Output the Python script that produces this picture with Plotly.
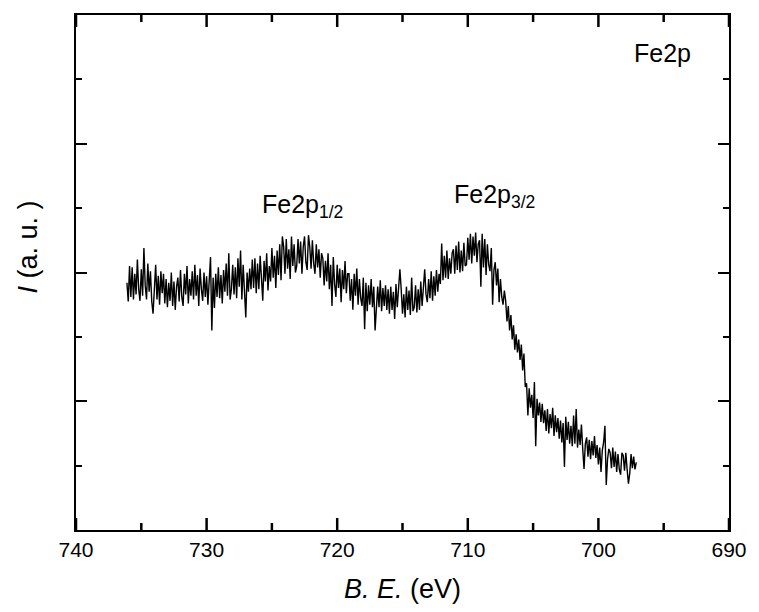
import numpy as np
import plotly.graph_objects as go

# Binding-energy grid (eV), high to low, as recorded
be_start = 736.1
be_step = 0.1

# Intensity (a.u.), one row per eV
intensity = [
    3.84, 3.55, 4.10, 3.62, 4.08, 3.58, 3.98, 3.66, 4.20, 3.74,
    3.56, 4.05, 3.64, 4.38, 3.80, 3.58, 4.14, 3.70, 4.02, 3.55,
    3.36, 3.72, 4.12, 3.58, 3.95, 3.50, 4.02, 3.68, 3.98, 3.52,
    3.90, 3.46, 3.84, 3.56, 4.00, 3.48, 3.86, 3.42, 3.78, 3.92,
    3.55, 4.04, 3.62, 3.48, 3.98, 3.66, 4.10, 3.52, 3.90, 3.64,
    4.02, 3.58, 4.12, 3.64, 3.96, 3.48, 4.06, 3.74, 3.56, 4.00,
    3.62, 3.94, 3.50, 3.88, 4.24, 3.10, 3.92, 3.45, 3.98, 3.62,
    4.08, 3.60, 3.96, 3.52, 4.04, 3.70, 4.14, 3.64, 4.30, 3.58,
    3.74, 4.12, 3.66, 4.08, 3.60, 4.22, 3.78, 4.34, 3.58, 4.12,
    3.80, 3.30, 4.00, 3.70, 4.06, 3.74, 4.20, 3.76, 4.22, 3.68,
    4.14, 3.74, 4.26, 3.80, 3.56, 4.18, 3.86, 4.30, 3.72, 4.10,
    3.86, 4.38, 3.92, 4.26, 3.76, 4.34, 3.96, 4.44, 3.88, 4.56,
    4.40, 3.98, 4.52, 4.06, 4.36, 3.90, 4.56, 4.10, 4.44, 4.00,
    4.10, 4.52, 4.14, 4.48, 3.98, 4.40, 4.56, 4.16, 4.04, 4.58,
    4.40, 4.06, 4.50, 4.14, 3.98, 4.44, 4.08, 4.36, 3.92, 4.30,
    4.22, 3.80, 4.18, 3.86, 4.30, 3.74, 4.12, 3.48, 4.24, 3.82,
    3.62, 4.12, 3.76, 4.06, 3.54, 4.04, 3.74, 4.18, 3.68, 3.98,
    3.98, 3.56, 3.90, 3.42, 3.98, 3.64, 4.06, 3.50, 3.90, 3.60,
    3.48, 3.92, 3.12, 3.84, 3.40, 3.80, 3.50, 3.90, 3.46, 3.78,
    3.10, 3.44, 3.78, 3.46, 3.88, 3.40, 3.76, 3.48, 3.80, 3.42,
    3.74, 3.36, 3.78, 3.42, 3.70, 3.28, 3.82, 3.46, 3.70, 4.05,
    3.74, 3.36, 3.66, 3.30, 3.78, 3.42, 3.72, 3.34, 3.92, 3.40,
    3.46, 3.80, 3.38, 3.74, 3.42, 3.86, 3.48, 3.76, 4.05, 3.66,
    3.54, 3.90, 3.60, 4.02, 3.56, 3.94, 3.64, 4.04, 3.70, 3.98,
    3.82, 4.45, 3.88, 4.26, 3.92, 4.34, 3.90, 4.22, 3.98, 4.30,
    4.36, 3.98, 4.42, 4.04, 4.48, 4.00, 4.34, 4.02, 4.46, 4.10,
    4.12, 4.54, 4.20, 4.60, 4.14, 4.56, 4.26, 4.62, 4.16, 4.44,
    4.50, 3.78, 4.60, 4.08, 4.52, 3.96, 4.44, 4.12, 4.02, 4.38,
    3.50, 4.04, 4.16, 3.80, 4.06, 3.54, 3.90, 3.62, 3.50, 3.72,
    3.56, 3.24, 3.48, 3.10, 3.34, 2.96, 3.18, 2.80, 3.04, 2.76,
    2.96, 2.64, 2.88, 2.48, 2.74, 2.22, 2.28, 1.78, 2.20, 1.90,
    2.10, 1.74, 2.30, 1.30, 2.04, 1.78, 1.98, 1.68, 1.96, 1.66,
    1.86, 1.54, 1.88, 1.50, 1.80, 1.58, 1.90, 1.46, 1.78, 1.52,
    1.74, 1.42, 1.70, 1.36, 1.66, 0.98, 1.76, 1.40, 1.68, 1.34,
    1.62, 1.30, 1.78, 1.34, 1.88, 1.28, 1.56, 1.32, 1.64, 1.26,
    0.95, 1.34, 1.44, 1.14, 1.40, 1.10, 1.38, 1.16, 1.46, 1.12,
    1.32, 1.02, 1.28, 0.90, 1.24, 1.36, 1.62, 0.70, 1.10, 1.26,
    1.20, 0.96, 1.28, 0.98, 1.22, 0.90, 1.18, 0.94, 0.86, 1.20,
    1.16, 0.92, 1.20, 0.94, 0.72, 0.88, 1.18, 0.96, 1.14, 0.94,
    1.05,
]

x_range = [740, 690]
y_range = [0, 8]
x_major_ticks = [740, 730, 720, 710, 700, 690]
x_minor_ticks = [735, 725, 715, 705, 695]

peak_labels = ["Fe2p", "Fe2p<sub>1/2</sub>", "Fe2p<sub>3/2</sub>"]
peak_label_x = [697.4, 725.9, 711.2]
peak_label_y = [7.41, 5.03, 5.19]

binding_energy = np.round(be_start - be_step * np.arange(len(intensity)), 1)

FONT = "Liberation Sans, Arial, sans-serif"
PLOT_H = 612 - 15 - 82  # plot-area height in px
MAJOR_LEN = 12 / PLOT_H
MINOR_LEN = 7 / PLOT_H

fig = go.Figure()
fig.add_trace(go.Scatter(
    x=binding_energy, y=intensity, mode="lines",
    line=dict(color="black", width=1.4), showlegend=False, hoverinfo="skip",
))

fig.update_layout(
    xaxis=dict(
        range=x_range, tickmode="array", tickvals=x_major_ticks,
        ticktext=[str(v) for v in x_major_ticks], ticks="",
        showline=True, linecolor="black", linewidth=2, mirror=True,
        tickfont=dict(family=FONT, size=21, color="black"),
        showgrid=False, zeroline=False,
    ),
    yaxis=dict(
        range=y_range, tick0=0, dtick=2, showticklabels=False,
        ticks="inside", ticklen=11, tickwidth=2, tickcolor="black",
        minor=dict(ticks="inside", dtick=1, ticklen=6, tickwidth=2, tickcolor="black"),
        showline=True, linecolor="black", linewidth=2, mirror="allticks",
        showgrid=False, zeroline=False,
    ),
)

# inward x tick marks on the bottom and top frame, placed on the x scale
for ticks, length in [(x_major_ticks, MAJOR_LEN), (x_minor_ticks, MINOR_LEN)]:
    for v in ticks:
        for y0, y1 in [(0, length), (1, 1 - length)]:
            fig.add_shape(type="line", xref="x", yref="paper", layer="above",
                          x0=v, x1=v, y0=y0, y1=y1,
                          line=dict(color="black", width=2.5))

for t, xv, yv in zip(peak_labels, peak_label_x, peak_label_y):
    fig.add_annotation(x=xv, y=yv, xref="x", yref="y", text=t, showarrow=False,
                       xanchor="left", yanchor="middle",
                       font=dict(family=FONT, size=25, color="black"))

fig.add_annotation(x=0.5, y=-0.115, xref="paper", yref="paper", yanchor="middle",
                   text="<i>B. E.</i> (eV)", showarrow=False,
                   font=dict(family=FONT, size=27, color="black"))
fig.add_annotation(x=-0.074, y=0.55, xref="paper", yref="paper", xanchor="center",
                   text="<i>I</i> (a. u. )", textangle=-90, showarrow=False,
                   font=dict(family=FONT, size=27, color="black"))

fig.update_layout(
    width=759, height=612,
    margin=dict(l=76, r=19, t=15, b=82),
    paper_bgcolor="white", plot_bgcolor="white",
)

fig.write_html("out.html", config={"displayModeBar": False},
               post_script="document.body.style.margin='0';document.body.style.overflow='hidden';")
